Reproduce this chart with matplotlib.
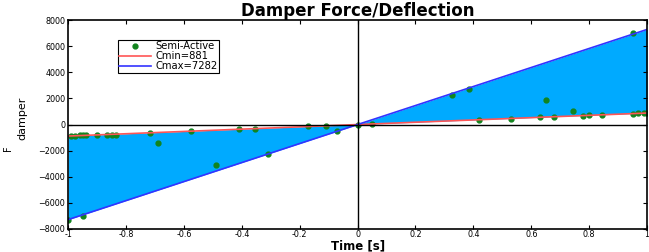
import numpy as np
import matplotlib
matplotlib.use('Agg')
import matplotlib.pyplot as plt

plt.rcParams['font.family'] = ['DejaVu Sans']

# damping coefficients
c_min = 881
c_max = 7282

# semi-active points (deflection velocity, force)
semi_x = [-1.0, -0.99, -0.975, -0.96, -0.95, -0.94, -0.95, -0.9, -0.865, -0.85, -0.835,
          -0.717, -0.69, -0.575, -0.49, -0.41, -0.355, -0.31, -0.17, -0.11, -0.07,
          0.0, 0.05, 0.326, 0.385, 0.42, 0.53, 0.63, 0.65, 0.68, 0.745, 0.78, 0.80,
          0.845, 0.95, 0.95, 0.97, 0.99, 1.0]
semi_y = [-7330, -840, -840, -830, -830, -820, -7020, -800, -800, -790, -790,
          -610, -1450, -530, -3130, -380, -310, -2290, -150, -100, -530,
          0, 60, 2290, 2750, 380, 460, 540, 1900, 600, 1000, 690, 700,
          700, 7020, 830, 850, 850, 860]

x_line = np.array([-1, 1])

fig = plt.figure(figsize=(6.49, 2.52), dpi=100)
ax = fig.add_axes([0.105, 0.0913, 0.892, 0.829])

ax.fill_between(x_line, c_min * x_line, c_max * x_line, color='#00aaff', lw=0)
ax.plot(semi_x, semi_y, 'o', color='#12841e', ms=3.5, label='Semi-Active')
ax.plot(x_line, c_min * x_line, color='#ff5555', lw=1.2, label='Cmin=881')
ax.plot(x_line, c_max * x_line, color='#3333ff', lw=1.2, label='Cmax=7282')
ax.axhline(0, color='k', lw=1)
ax.axvline(0, color='k', lw=1)

ax.set_xlim(-1, 1)
ax.set_ylim(-8000, 8000)
ax.set_xticks(np.arange(-1, 1.01, 0.2))
ax.set_xticklabels(['-1', '-0.8', '-0.6', '-0.4', '-0.2', '0', '0.2', '0.4', '0.6', '0.8', '1'])
ax.set_yticks(np.arange(-8000, 8001, 2000))
ax.tick_params(direction='in', top=True, right=True, labelsize=5.8, length=3, pad=2)
ax.tick_params(axis='x', pad=1)
for s in ax.spines.values():
    s.set_linewidth(1.2)

ax.set_title('Damper Force/Deflection', fontsize=12, fontweight='bold', pad=3)
ax.set_xlabel('Time [s]', fontsize=8.5, fontweight='bold')
ax.xaxis.set_label_coords(0.5, -0.05)

# y label: F with subscript "damper"
fig.text(0.013, 0.41, 'F', rotation=90, fontsize=7, ha='center', va='center')
fig.text(0.034, 0.53, 'damper', rotation=90, fontsize=8, ha='center', va='center')

leg = ax.legend(loc='upper left', bbox_to_anchor=(0.086, 0.905), fontsize=7.2,
                fancybox=False, edgecolor='k', framealpha=1, borderpad=0.15,
                labelspacing=0.0, handlelength=3.2, handletextpad=0.4,
                borderaxespad=0)
leg.get_frame().set_linewidth(0.8)

fig.savefig('out.png', dpi=100)
